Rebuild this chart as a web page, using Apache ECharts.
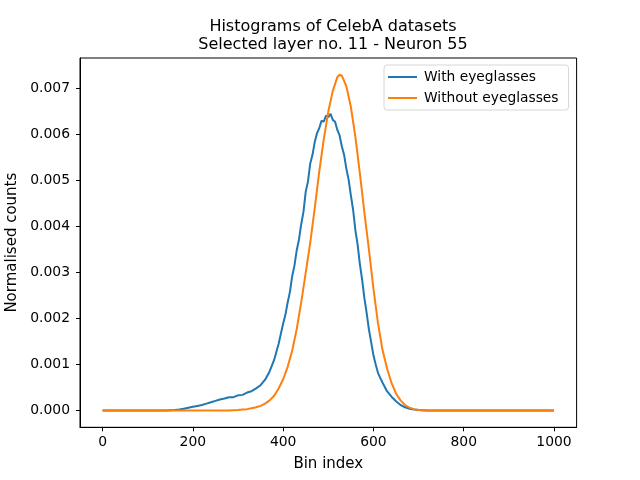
<!doctype html>
<html>
<head>
<meta charset="utf-8">
<title>Histograms of CelebA datasets</title>
<script src="https://cdn.jsdelivr.net/npm/echarts@6/dist/echarts.min.js"></script>
<style>
  html, body { margin: 0; padding: 0; background: #fff; }
  #chart { width: 640px; height: 480px; }
</style>
</head>
<body>
<div id="chart"></div>
<script>
// bin index positions and normalised counts
var blueBins = [
  0, 10, 20, 30, 40, 50, 60, 70, 80, 90, 100, 110, 120, 130, 140, 150, 160, 170, 180, 190,
  200, 210, 220, 230, 240, 250, 260, 270, 280, 290, 300, 310, 320, 330, 340, 350, 360, 370, 380, 390,
  400, 405, 410, 415, 420, 425, 430, 435, 440, 445, 450, 455, 460, 465, 470, 475, 480, 485, 490, 495,
  500, 505, 510, 515, 520, 525, 530, 535, 540, 545, 550, 555, 560, 565, 570, 575, 580, 585, 590, 595,
  600, 605, 610, 615, 620,
  630, 640, 650, 660, 670, 680, 690, 700, 710, 720, 730, 740, 750, 760, 770, 780, 790,
  800, 810, 820, 830, 840, 850, 860, 870, 880, 890, 900, 910, 920, 930, 940, 950, 960, 970, 980, 990, 1000
];
var blueVals = [
  0, 0, 0, 0, 0, 0, 0, 0, 0, 0, 0, 0, 0, 0, 0, 0.000005, 0.00001, 0.00002, 0.00004, 0.00006,
  0.00008, 0.0001, 0.00012, 0.00015, 0.00018, 0.00021, 0.00024, 0.00026, 0.00029, 0.00029, 0.00033, 0.00034, 0.00039, 0.00042, 0.00048, 0.00055, 0.00067, 0.00085, 0.0011, 0.00145,
  0.00189, 0.00208, 0.00235, 0.00258, 0.00292, 0.00315, 0.00348, 0.00372, 0.00405, 0.00432, 0.00476, 0.00498, 0.00537, 0.00556, 0.00584, 0.00603, 0.00614, 0.0063, 0.00628, 0.00641,
  0.00638, 0.00645, 0.00632, 0.00628, 0.0061, 0.00598, 0.00574, 0.00556, 0.00526, 0.00502, 0.00468, 0.00436, 0.00392, 0.0036, 0.00318, 0.00284, 0.00244, 0.00212, 0.00176, 0.00148,
  0.0012, 0.001, 0.00082, 0.00071, 0.00061,
  0.00042, 0.0003, 0.0002, 0.00012, 0.00007, 0.00004, 0.00002, 0.00001, 0.000005, 0, 0, 0, 0, 0, 0, 0, 0,
  0, 0, 0, 0, 0, 0, 0, 0, 0, 0, 0, 0, 0, 0, 0, 0, 0, 0, 0, 0, 0
];

var orangeBins = [
  0, 10, 20, 30, 40, 50, 60, 70, 80, 90, 100, 110, 120, 130, 140, 150, 160, 170, 180, 190,
  200, 210, 220, 230, 240, 250, 260, 270, 280, 290, 300, 310, 320, 330, 340, 350, 360, 370, 380, 390,
  400, 410, 420, 430, 440, 450, 460, 470, 480, 490, 500, 510, 520, 525, 530, 540, 550, 560, 570, 580, 590,
  600, 610, 620, 630, 640, 650, 660, 670, 680, 690, 700, 710, 720, 730, 740, 750, 760, 770, 780, 790,
  800, 810, 820, 830, 840, 850, 860, 870, 880, 890, 900, 910, 920, 930, 940, 950, 960, 970, 980, 990, 1000
];
var orangeVals = [
  0, 0, 0, 0, 0, 0, 0, 0, 0, 0, 0, 0, 0, 0, 0, 0, 0, 0, 0, 0,
  0, 0, 0, 0, 0, 0, 0, 0, 0, 0.000005, 0.00001, 0.00002, 0.00003, 0.00005, 0.00007, 0.0001, 0.00015, 0.00022, 0.00032, 0.00048,
  0.00068, 0.00095, 0.0013, 0.00177, 0.00235, 0.003, 0.00365, 0.0044, 0.0052, 0.0059, 0.0065, 0.00695, 0.00725, 0.0073, 0.00728, 0.00705, 0.0066, 0.00595, 0.00515, 0.0043, 0.0035,
  0.00265, 0.0019, 0.00132, 0.00092, 0.0006, 0.00037, 0.00022, 0.00012, 0.00006, 0.00003, 0.00001, 0, 0, 0, 0, 0, 0, 0, 0, 0,
  0, 0, 0, 0, 0, 0, 0, 0, 0, 0, 0, 0, 0, 0, 0, 0, 0, 0, 0, 0, 0
];

var xTicks = [0, 200, 400, 600, 800, 1000];
var yTicks = [0, 0.001, 0.002, 0.003, 0.004, 0.005, 0.006, 0.007];

function pairs(xs, ys) {
  return xs.map(function (x, i) { return [x, ys[i]]; });
}

var font = 'DejaVu Sans';
var chart = echarts.init(document.getElementById('chart'), null, { renderer: 'canvas' });

var option = {
  backgroundColor: '#fff',
  animation: false,
  textStyle: { fontFamily: font },
  title: {
    text: 'Histograms of CelebA datasets\nSelected layer no. 11 - Neuron 55',
    left: 328, top: 13, textAlign: 'center',
    textStyle: { fontFamily: font, fontSize: 16, fontWeight: 'normal', color: '#000', lineHeight: 18 }
  },
  legend: {
    orient: 'vertical',
    left: 384, top: 65,
    padding: [5, 10, 5, 4],
    itemGap: 7,
    itemWidth: 29, itemHeight: 2,
    icon: 'rect',
    backgroundColor: '#fff',
    borderColor: '#d6d6d6', borderWidth: 1, borderRadius: 3,
    textStyle: { fontFamily: font, fontSize: 13.8, color: '#000', padding: [0, 0, 0, 2] },
    data: ['With eyeglasses', 'Without eyeglasses']
  },
  grid: {
    left: 80, top: 58, right: 63.4, bottom: 52.7,
    outerBoundsMode: 'none',
    show: true, borderColor: '#000', borderWidth: 1, containLabel: false
  },
  xAxis: {
    type: 'value', min: -50, max: 1050,
    name: 'Bin index', nameLocation: 'middle', nameGap: 29,
    nameTextStyle: { fontFamily: font, fontSize: 15, color: '#000' },
    axisLine: { show: true, onZero: false, lineStyle: { color: '#000', width: 1 } },
    axisTick: { show: true, customValues: xTicks, length: 4, inside: false, lineStyle: { color: '#000' } },
    axisLabel: {
      customValues: xTicks, margin: 8, fontFamily: font, fontSize: 13.9, color: '#000',
      formatter: function (v) { return String(v); }
    },
    splitLine: { show: false }
  },
  yAxis: {
    type: 'value', min: -0.000365, max: 0.007665,
    name: 'Normalised counts', nameLocation: 'middle', nameGap: 56, nameRotate: 90,
    nameTextStyle: { fontFamily: font, fontSize: 15, color: '#000' },
    axisLine: { show: true, onZero: false, lineStyle: { color: '#000', width: 1 } },
    axisTick: { show: true, customValues: yTicks, length: 4, inside: false, lineStyle: { color: '#000' } },
    axisLabel: {
      customValues: yTicks, margin: 10, fontFamily: font, fontSize: 13.9, color: '#000',
      formatter: function (v) { return v.toFixed(3); }
    },
    splitLine: { show: false }
  },
  series: [
    {
      name: 'With eyeglasses', type: 'line', data: pairs(blueBins, blueVals),
      symbol: 'none', color: '#1f77b4', lineStyle: { width: 2, color: '#1f77b4' }
    },
    {
      name: 'Without eyeglasses', type: 'line', data: pairs(orangeBins, orangeVals),
      symbol: 'none', color: '#ff7f0e', lineStyle: { width: 2, color: '#ff7f0e' }
    }
  ]
};
chart.setOption(option);
</script>
</body>
</html>
